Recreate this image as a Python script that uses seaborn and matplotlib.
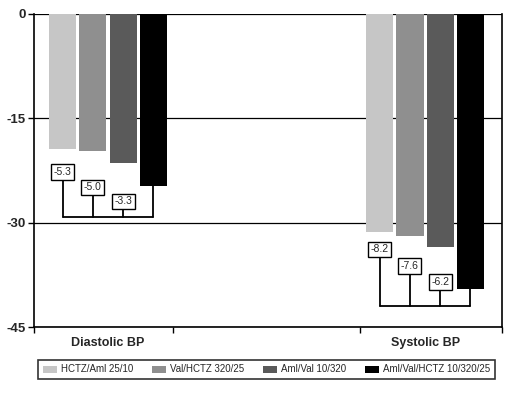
import numpy as np
import pandas as pd
import seaborn as sns
import matplotlib.pyplot as plt

# data
categories = ['Diastolic BP', 'Systolic BP']
treatments = ['HCTZ/Aml 25/10', 'Val/HCTZ 320/25', 'Aml/Val 10/320', 'Aml/Val/HCTZ 10/320/25']
diastolic = [-19.4, -19.7, -21.4, -24.7]
systolic = [-31.3, -31.9, -33.5, -39.5]
diff_diastolic = ['-5.3', '-5.0', '-3.3']
diff_systolic = ['-8.2', '-7.6', '-6.2']
colors = ['#c6c6c6', '#8f8f8f', '#5a5a5a', '#000000']

df = pd.DataFrame({
    'category': np.repeat(categories, 4),
    'treatment': treatments * 2,
    'change': diastolic + systolic,
})

sns.set_style('white')
plt.rcParams['font.family'] = ['Liberation Sans', 'DejaVu Sans']

fig = plt.figure(figsize=(5.15, 3.99), dpi=100)
ax = fig.add_axes([0.066, 0.180, 0.909, 0.785])

sns.barplot(df, x='category', y='change', hue='treatment', hue_order=treatments,
            palette=colors, width=0.382, gap=0.1, saturation=1, ax=ax,
            edgecolor='none', legend=False, zorder=3)

ax.set_ylim(-45, 0)
ax.set_yticks([0, -15, -30, -45])
ax.set_yticklabels(['0', '-15', '-30', '-45'], fontweight='bold', fontsize=9.5)
ax.set_xlim(-0.2334, 1.243)
ax.set_xticks([-0.2334, 0.205, 0.795, 1.243])
ax.set_xticklabels([])
ax.tick_params(axis='both', direction='out', length=4, width=1, color='black',
               bottom=True, left=True, pad=2)
ax.set_xlabel('')
ax.set_ylabel('')
ax.yaxis.grid(True, color='black', lw=0.9)
ax.set_axisbelow(True)
for side in ['left', 'bottom', 'right']:
    ax.spines[side].set_color('black')
    ax.spines[side].set_linewidth(1.2)
ax.spines['top'].set_visible(False)

for i, cat in enumerate(categories):
    ax.text(i, -47.3, cat, ha='center', va='center', fontweight='bold', fontsize=9)

# bar centres from the drawn patches
patches = sorted(ax.patches, key=lambda p: p.get_x())
centres = [p.get_x() + p.get_width() / 2 for p in patches]
bottoms = [p.get_y() + p.get_height() for p in patches]


def bracket(xs, bar_bottoms, labels, box_y, line_y):
    for x, lab, by in zip(xs[:3], labels, box_y):
        ax.plot([x, x], [by, line_y], color='black', lw=1.3, zorder=4)
        ax.text(x, by, lab, ha='center', va='center', fontsize=7.5, zorder=5,
                bbox=dict(boxstyle='square,pad=0.25', fc='white', ec='black', lw=1))
    ax.plot([xs[3], xs[3]], [bar_bottoms[3], line_y], color='black', lw=1.3, zorder=4)
    ax.plot([xs[0], xs[3]], [line_y, line_y], color='black', lw=1.3, zorder=4)


bracket(centres[:4], bottoms[:4], diff_diastolic, [-22.7, -24.9, -26.9], -29.2)
bracket(centres[4:], bottoms[4:], diff_systolic, [-33.8, -36.2, -38.5], -42.0)

handles = [plt.Rectangle((0, 0), 1, 1, fc=c, ec='none') for c in colors]
leg = fig.legend(handles, treatments, loc='center', ncol=4,
                 bbox_to_anchor=(266.5 / 515, 1 - 369.5 / 399),
                 fontsize=7, frameon=True, fancybox=False, edgecolor='black',
                 handlelength=1.5, handleheight=0.7, handletextpad=0.4,
                 borderpad=0.5, columnspacing=1.9)
leg.get_frame().set_linewidth(1.2)

fig.savefig('out.png', dpi=100)
